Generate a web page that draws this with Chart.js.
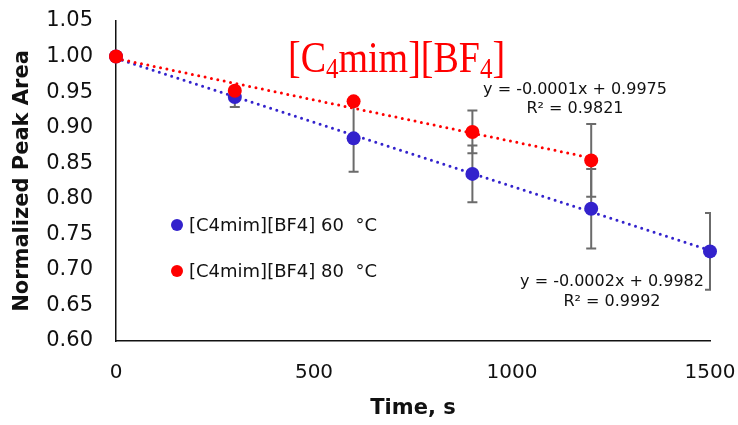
<!DOCTYPE html>
<html>
<head>
<meta charset="utf-8">
<script src="https://cdn.jsdelivr.net/npm/chart.js@4.4.1/dist/chart.umd.min.js"></script>
<style>
  body { margin: 0; background: #fff; }
</style>
</head>
<body>
<canvas id="myChart" width="738" height="425"></canvas>
<script>
// data
const times = [0, 300, 600, 900, 1200, 1500];
const area60 = [1.000, 0.943, 0.885, 0.835, 0.786, 0.726];
const err60 = [0, 0.014, 0.047, 0.040, 0.056, 0.054];
const times80 = [0, 300, 600, 900, 1200];
const area80 = [1.000, 0.952, 0.937, 0.894, 0.854];
const err80 = [0, 0.004, 0.004, 0.030, 0.051];
const seriesLabels = ['[C4mim][BF4] 60  °C', '[C4mim][BF4] 80  °C'];
const xTicks = [0, 500, 1000, 1500];
const eq60 = ['y = -0.0002x + 0.9982', 'R² = 0.9992'];
const eq80 = ['y = -0.0001x + 0.9975', 'R² = 0.9821'];

const blue = '#3322cc';
const red = '#ff0000';

// least squares trend line, end points taken at first/last x
function trend(xs, ys) {
    const n = xs.length;
    const mx = xs.reduce((a, b) => a + b, 0) / n;
    const my = ys.reduce((a, b) => a + b, 0) / n;
    let sxy = 0, sxx = 0;
    for (let i = 0; i < n; i++) {
        sxy += (xs[i] - mx) * (ys[i] - my);
        sxx += (xs[i] - mx) * (xs[i] - mx);
    }
    const m = sxy / sxx, b = my - m * mx;
    return [xs[0], xs[n - 1]].map(x => ({ x: x, y: m * x + b }));
}

const pts = (xs, ys) => xs.map((x, i) => ({ x: x, y: ys[i] }));

// grey error bars, drawn under the points
const errorBars = {
    id: 'errorBars',
    beforeDatasetsDraw(chart) {
        const { ctx, chartArea, scales: { x, y } } = chart;
        ctx.save();
        ctx.beginPath();
        ctx.rect(chartArea.left - 10, chartArea.top - 10, chartArea.width + 11, chartArea.height + 20);
        ctx.clip();
        ctx.strokeStyle = '#6b6b6b';
        ctx.lineWidth = 2;
        chart.data.datasets.forEach(ds => {
            if (!ds.errors) return;
            ds.data.forEach((p, i) => {
                const e = ds.errors[i];
                if (!e) return;
                const px = x.getPixelForValue(p.x);
                const t = y.getPixelForValue(p.y + e);
                const b = y.getPixelForValue(p.y - e);
                ctx.beginPath();
                ctx.moveTo(px, t); ctx.lineTo(px, b);
                ctx.moveTo(px - 5, t); ctx.lineTo(px + 5, t);
                ctx.moveTo(px - 5, b); ctx.lineTo(px + 5, b);
                ctx.stroke();
            });
        });
        ctx.restore();
    }
};

// title, equations and the legend inside the plot
const extras = {
    id: 'extras',
    afterDraw(chart) {
        const ctx = chart.ctx;
        ctx.save();

        // [C4mim][BF4] with subscripts
        ctx.fillStyle = red;
        ctx.textBaseline = 'alphabetic';
        ctx.textAlign = 'left';
        const big = '38px "Liberation Serif"', small = '25px "Liberation Serif"';
        const parts = [['[C', big, 0], ['4', small, 5], ['mim][BF', big, 0], ['4', small, 5], [']', big, 0]];
        let tx = 288;
        ctx.translate(0, 72);
        ctx.scale(1, 1.15);
        parts.forEach(([s, f, dy]) => {
            ctx.font = f;
            ctx.fillText(s, tx, dy);
            tx += ctx.measureText(s).width;
        });
        ctx.setTransform(1, 0, 0, 1, 0, 0);

        // trendline equations
        ctx.fillStyle = '#111';
        ctx.font = '16px "DejaVu Sans"';
        ctx.textAlign = 'center';
        ctx.textBaseline = 'middle';
        ctx.fillText(eq80[0], 575, 90);
        ctx.fillText(eq80[1], 575, 109);
        ctx.fillText(eq60[0], 612, 282);
        ctx.fillText(eq60[1], 612, 302);

        // legend, 60 °C first
        ctx.textAlign = 'left';
        ctx.font = '18px "DejaVu Sans"';
        seriesLabels.forEach((lab, i) => {
            const d = chart.data.datasets.find(ds => ds.label === lab);
            const ly = 225 + i * 46;
            ctx.fillStyle = d.backgroundColor;
            ctx.beginPath();
            ctx.arc(177, ly, 6, 0, Math.PI * 2);
            ctx.fill();
            ctx.fillStyle = '#111';
            ctx.fillText(lab, 189, ly + 1);
        });
        ctx.restore();
    }
};

const ctx = document.getElementById('myChart').getContext('2d');

const myChart = new Chart(ctx, {
    type: 'scatter',
    data: {
        datasets: [
            {
                label: seriesLabels[1], data: pts(times80, area80), errors: err80,
                backgroundColor: red, borderColor: red, pointRadius: 7, pointBorderWidth: 0,
                order: 0, clip: false
            },
            {
                label: seriesLabels[0], data: pts(times, area60), errors: err60,
                backgroundColor: blue, borderColor: blue, pointRadius: 7, pointBorderWidth: 0,
                order: 1, clip: false
            },
            {
                label: 'trend 80', data: trend(times80, area80), showLine: true, pointRadius: 0,
                borderColor: red, borderWidth: 3, borderDash: [0, 6.5], borderCapStyle: 'round',
                order: 2
            },
            {
                label: 'trend 60', data: trend(times, area60), showLine: true, pointRadius: 0,
                borderColor: blue, borderWidth: 3, borderDash: [0, 6.5], borderCapStyle: 'round',
                order: 3
            }
        ]
    },
    options: {
        responsive: false,
        animation: false,
        layout: { padding: { top: 21, right: 28, left: 0, bottom: 0 } },
        plugins: {
            legend: { display: false },
            tooltip: { enabled: false }
        },
        scales: {
            x: {
                type: 'linear', min: 0, max: 1500,
                afterFit: s => { s.height = 84; s.paddingLeft = 0; s.paddingRight = 0; },
                afterBuildTicks: s => { s.ticks = xTicks.map(v => ({ value: v })); },
                grid: { display: false, drawTicks: false },
                border: { color: '#111', width: 1.5 },
                ticks: {
                    color: '#111', padding: 20, font: { family: 'DejaVu Sans', size: 20 },
                    callback: v => String(v)
                },
                title: {
                    display: true, text: 'Time, s', color: '#111',
                    font: { family: 'DejaVu Sans', size: 21, weight: 'bold' },
                    padding: { top: 0, bottom: 4 }
                }
            },
            y: {
                min: 0.6, max: 1.05,
                afterFit: s => { s.width = 116; s.paddingTop = 0; s.paddingBottom = 0; },
                grid: { display: false, drawTicks: false },
                border: { color: '#111', width: 1.5 },
                ticks: {
                    stepSize: 0.05, color: '#111', padding: 23,
                    font: { family: 'DejaVu Sans', size: 21 },
                    callback: v => v.toFixed(2)
                },
                title: {
                    display: true, text: 'Normalized Peak Area', color: '#111',
                    font: { family: 'DejaVu Sans', size: 21, weight: 'bold' },
                    padding: { top: 10, bottom: 0 }
                }
            }
        }
    },
    plugins: [errorBars, extras]
});
</script>
</body>
</html>
